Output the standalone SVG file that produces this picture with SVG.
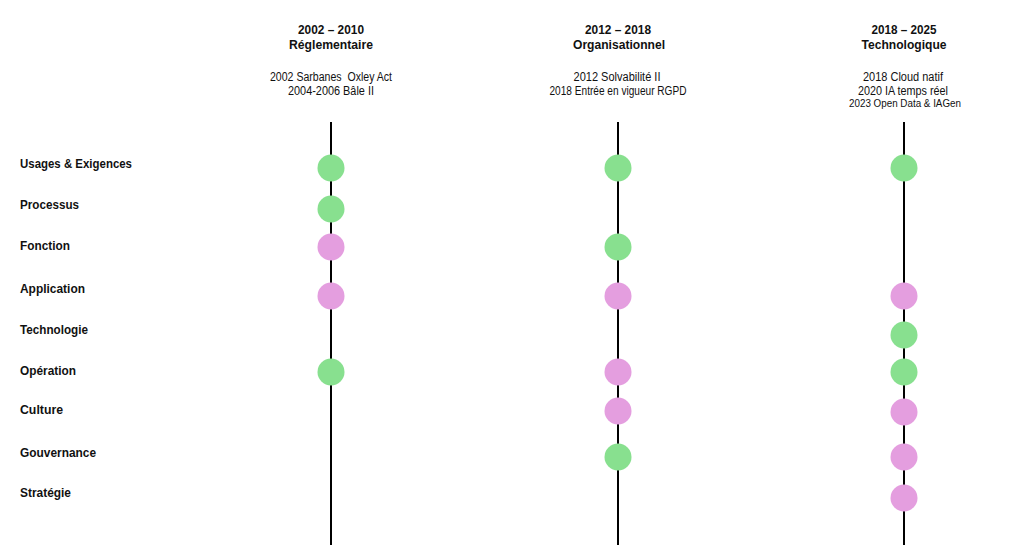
<svg xmlns="http://www.w3.org/2000/svg" width="1024" height="558" viewBox="0 0 1024 558">
<style>
.h{font-family:"Liberation Sans",Arial,sans-serif;font-weight:bold;font-size:13.5px;fill:#111;text-anchor:middle}
.s{font-family:"Liberation Sans",Arial,sans-serif;font-size:12.5px;fill:#111;text-anchor:middle}
.xs{font-family:"Liberation Sans",Arial,sans-serif;font-size:10px;fill:#111;text-anchor:middle}
.l{font-family:"Liberation Sans",Arial,sans-serif;font-weight:bold;font-size:13.5px;fill:#111}
.ln{stroke:#000;stroke-width:2}
.g{fill:#88E08F}
.p{fill:#E49EDF}
</style>
<rect width="1024" height="558" fill="#fff"/>
<g id="headers">
<text class="h" x="331" y="34" textLength="66" lengthAdjust="spacingAndGlyphs">2002 – 2010</text>
<text class="h" x="331" y="49" textLength="84" lengthAdjust="spacingAndGlyphs">Réglementaire</text>
<text class="s" x="331" y="81" textLength="122" lengthAdjust="spacingAndGlyphs">2002 Sarbanes &#160;Oxley Act</text>
<text class="s" x="331" y="95" textLength="86" lengthAdjust="spacingAndGlyphs">2004-2006 Bâle II</text>
<text class="h" x="618" y="34" textLength="66" lengthAdjust="spacingAndGlyphs">2012 – 2018</text>
<text class="h" x="619" y="49" textLength="92" lengthAdjust="spacingAndGlyphs">Organisationnel</text>
<text class="s" x="617" y="81" textLength="87" lengthAdjust="spacingAndGlyphs">2012 Solvabilité II</text>
<text class="s" x="618" y="95" textLength="137" lengthAdjust="spacingAndGlyphs">2018 Entrée en vigueur RGPD</text>
<text class="h" x="904" y="34" textLength="65" lengthAdjust="spacingAndGlyphs">2018 – 2025</text>
<text class="h" x="904" y="49" textLength="85" lengthAdjust="spacingAndGlyphs">Technologique</text>
<text class="s" x="903" y="81" textLength="80" lengthAdjust="spacingAndGlyphs">2018 Cloud natif</text>
<text class="s" x="903" y="95" textLength="90" lengthAdjust="spacingAndGlyphs">2020 IA temps réel</text>
<text class="xs" x="905" y="107" textLength="112" lengthAdjust="spacingAndGlyphs">2023 Open Data &amp; IAGen</text>
</g>
<g id="labels">
<text class="l" x="20" y="168" textLength="112" lengthAdjust="spacingAndGlyphs">Usages &amp; Exigences</text>
<text class="l" x="20" y="209" textLength="59" lengthAdjust="spacingAndGlyphs">Processus</text>
<text class="l" x="20" y="250" textLength="50" lengthAdjust="spacingAndGlyphs">Fonction</text>
<text class="l" x="20" y="293" textLength="65" lengthAdjust="spacingAndGlyphs">Application</text>
<text class="l" x="20" y="334" textLength="68" lengthAdjust="spacingAndGlyphs">Technologie</text>
<text class="l" x="20" y="375" textLength="56" lengthAdjust="spacingAndGlyphs">Opération</text>
<text class="l" x="20" y="414" textLength="43" lengthAdjust="spacingAndGlyphs">Culture</text>
<text class="l" x="20" y="457" textLength="76" lengthAdjust="spacingAndGlyphs">Gouvernance</text>
<text class="l" x="20" y="497" textLength="51" lengthAdjust="spacingAndGlyphs">Stratégie</text>
</g>
<g id="connectors">
<line class="ln" x1="331" y1="122" x2="331" y2="545"/>
<line class="ln" x1="618" y1="122" x2="618" y2="545"/>
<line class="ln" x1="904" y1="122" x2="904" y2="545"/>
</g>
<g id="col1">
<circle class="g" cx="331" cy="168" r="13.5"/>
<circle class="g" cx="331" cy="209" r="13.5"/>
<circle class="p" cx="331" cy="247" r="13.5"/>
<circle class="p" cx="331" cy="296" r="13.5"/>
<circle class="g" cx="331" cy="372" r="13.5"/>
</g>
<g id="col2">
<circle class="g" cx="618" cy="168" r="13.5"/>
<circle class="g" cx="618" cy="247" r="13.5"/>
<circle class="p" cx="618" cy="296" r="13.5"/>
<circle class="p" cx="618" cy="372" r="13.5"/>
<circle class="p" cx="618" cy="411" r="13.5"/>
<circle class="g" cx="618" cy="457" r="13.5"/>
</g>
<g id="col3">
<circle class="g" cx="904" cy="168" r="13.5"/>
<circle class="p" cx="904" cy="296" r="13.5"/>
<circle class="g" cx="904" cy="335" r="13.5"/>
<circle class="g" cx="904" cy="372" r="13.5"/>
<circle class="p" cx="904" cy="412" r="13.5"/>
<circle class="p" cx="904" cy="457" r="13.5"/>
<circle class="p" cx="904" cy="498" r="13.5"/>
</g>
</svg>
